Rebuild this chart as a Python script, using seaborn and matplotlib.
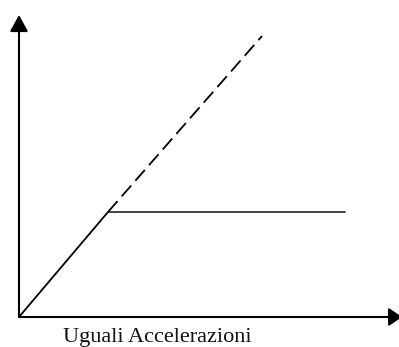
import pandas as pd
import matplotlib.pyplot as plt
import seaborn as sns

# dati del diagramma (unità arbitrarie)
x_salita = [0, 89]
y_salita = [0, 105]
x_tratteggio = [89, 243]
y_tratteggio = [105, 281]
x_piano = [89, 326]
y_piano = [105, 105]
etichetta = "Uguali Accelerazioni"

sns.set_style("white")
plt.rcParams["font.family"] = ["Liberation Serif", "DejaVu Serif"]

fig = plt.figure(figsize=(3.99, 3.47), dpi=100)
ax = fig.add_axes([0, 0, 1, 1])

df_salita = pd.DataFrame({"x": x_salita, "y": y_salita})
df_tratt = pd.DataFrame({"x": x_tratteggio, "y": y_tratteggio})
df_piano = pd.DataFrame({"x": x_piano, "y": y_piano})

sns.lineplot(data=df_salita, x="x", y="y", color="black", linewidth=1.3, ax=ax)
sns.lineplot(data=df_tratt, x="x", y="y", color="black", linewidth=1.3,
             linestyle=(0, (8, 3.5)), ax=ax)
sns.lineplot(data=df_piano, x="x", y="y", color="#222222", linewidth=1.2, ax=ax)

# assi con frecce
ax.annotate("", xy=(0, 302), xytext=(0, 0), annotation_clip=False,
            arrowprops=dict(arrowstyle="-|>,head_length=1.0,head_width=0.55",
                            color="black", lw=1.5, shrinkA=0, shrinkB=0))
ax.annotate("", xy=(383, 0), xytext=(0, 0), annotation_clip=False,
            arrowprops=dict(arrowstyle="-|>,head_length=0.8,head_width=0.55",
                            color="black", lw=1.5, shrinkA=0, shrinkB=0))

ax.text(44, -11, etichetta, fontsize=16, ha="left", va="top", color="#111111")

ax.set_xlim(-19, 380)
ax.set_ylim(-30, 317)
ax.axis("off")

plt.savefig("out.png", dpi=100)
